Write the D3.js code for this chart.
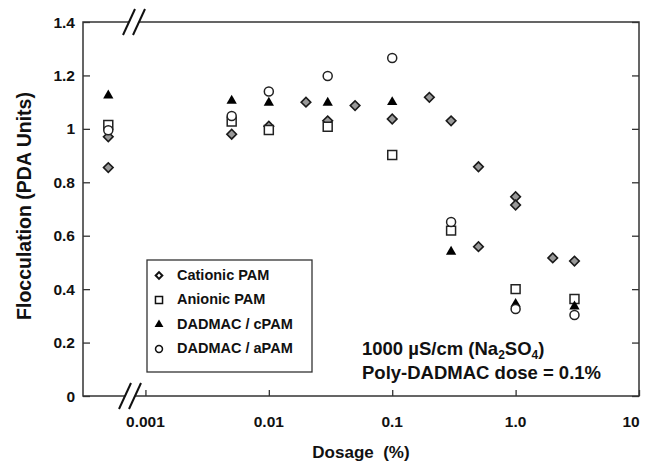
<!DOCTYPE html>
<html>
<head>
<meta charset="utf-8">
<script src="https://cdn.jsdelivr.net/npm/d3@7"></script>
<style>
body{margin:0;background:#fff;}
text{font-family:Arial,"Liberation Sans",sans-serif;font-weight:bold;fill:#111;}
</style>
</head>
<body>
<svg width="651" height="467"></svg>
<script>
// data (dose 0.0005 = no-polymer control, drawn left of the axis break)
const seriesNames = ["Cationic PAM","Anionic PAM","DADMAC / cPAM","DADMAC / aPAM"];
const cationicX = [0.0005,0.0005,0.005,0.01,0.02,0.03,0.05,0.1,0.2,0.3,0.5,0.5,1,1,2,3];
const cationicY = [0.97,0.855,0.98,1.01,1.10,1.03,1.087,1.037,1.118,1.03,0.858,0.559,0.746,0.715,0.517,0.505];
const dualX = [0.0005,0.005,0.01,0.03,0.1,0.3,1,3];
const anionicY = [1.015,1.027,0.996,1.008,0.902,0.619,0.40,0.363];
const cpamY = [1.125,1.105,1.098,1.098,1.10,0.54,0.345,0.335];
const apamY = [0.995,1.048,1.14,1.198,1.265,0.651,0.326,0.303];
const xTicks = [0.001,0.01,0.1,1,10];
const xTickLabels = ["0.001","0.01","0.1","1.0","10"];
const yTicks = [0,0.2,0.4,0.6,0.8,1,1.2,1.4];

var svg = d3.select("svg");
var pL = 83, pR = 639, pT = 22, pB = 396;

var x = d3.scaleLog().domain([Math.pow(10,-3.506),10]).range([pL,pR]);
var y = d3.scaleLinear().domain([0,1.4]).range([pB,pT]);

var axisCol = "#333";

// frame
svg.append("rect").attr("x",pL).attr("y",pT)
   .attr("width",pR-pL).attr("height",pB-pT)
   .attr("fill","none").attr("stroke",axisCol).attr("stroke-width",1.5);

// inward ticks
var gl = svg.append("g").attr("transform","translate("+pL+",0)")
   .call(d3.axisRight(y).tickValues(yTicks).tickSize(7).tickFormat(""));
var gr = svg.append("g").attr("transform","translate("+pR+",0)")
   .call(d3.axisLeft(y).tickValues(yTicks).tickSize(7).tickFormat(""));
var gb = svg.append("g").attr("transform","translate(0,"+pB+")")
   .call(d3.axisTop(x).tickValues(xTicks).tickSize(6).tickFormat(""));
[gl,gr,gb].forEach(function(g){
  g.select(".domain").remove();
  g.selectAll("line").attr("stroke",axisCol).attr("stroke-width",1.3);
});

// tick labels
svg.selectAll(".ylab").data(yTicks).enter().append("text")
   .attr("class","ylab")
   .attr("x",pL-8).attr("y",d=>y(d)).attr("dy","0.36em")
   .attr("text-anchor","end").style("font-size","15.5px")
   .text(d=>String(+d.toFixed(1)));
svg.selectAll(".xlab").data(xTicks).enter().append("text")
   .attr("class","xlab")
   .attr("x",(d,i)=> i==4 ? x(d)-8 : x(d)).attr("y",pB+31)
   .attr("text-anchor","middle").style("font-size","15.5px")
   .text((d,i)=>xTickLabels[i]);

// axis titles
svg.append("text").attr("x",(pL+pR)/2).attr("y",pB+62)
   .attr("text-anchor","middle").style("font-size","17px")
   .attr("xml:space","preserve").text("Dosage  (%)");
svg.append("text").attr("transform","translate(31,206) rotate(-90)")
   .attr("text-anchor","middle").style("font-size","19.5px")
   .text("Flocculation (PDA Units)");

// axis breaks
function brk(cx,cy){
  svg.append("rect").attr("x",cx-5).attr("y",cy-3).attr("width",10).attr("height",6).attr("fill","#fff");
  [-5,5].forEach(function(o){
    svg.append("line").attr("x1",cx+o-6).attr("y1",cy+13).attr("x2",cx+o+6).attr("y2",cy-13)
       .attr("stroke","#111").attr("stroke-width",2);
  });
}
brk(134,pT);
brk(130,pB);

// markers
var sq = d3.symbol().type(d3.symbolSquare);
function pts(xs,ys,kind){
  var data = xs.map((d,i)=>[d,ys[i]]);
  var g = svg.append("g");
  var sel = g.selectAll("path").data(data).enter().append("path");
  if(kind==0){
    sel.attr("d",sq.size(46)()).attr("fill","#999").attr("stroke","#1a1a1a").attr("stroke-width",1.6)
       .attr("transform",d=>"translate("+x(d[0])+","+y(d[1])+") rotate(45)");
  } else if(kind==1){
    sel.attr("d",sq.size(80)()).attr("fill","#fff").attr("stroke","#222").attr("stroke-width",1.5)
       .attr("transform",d=>"translate("+x(d[0])+","+y(d[1])+")");
  } else if(kind==2){
    sel.attr("d",d3.symbol().type(d3.symbolTriangle).size(46)()).attr("fill","#000")
       .attr("transform",d=>"translate("+x(d[0])+","+y(d[1])+")");
  } else {
    sel.attr("d",d3.symbol().type(d3.symbolCircle).size(64)()).attr("fill","#fff").attr("stroke","#222").attr("stroke-width",1.5)
       .attr("transform",d=>"translate("+x(d[0])+","+y(d[1])+")");
  }
}
pts(cationicX,cationicY,0);
pts(dualX,anionicY,1);
pts(dualX,cpamY,2);
pts(dualX,apamY,3);

// legend
var lg = svg.append("g");
lg.append("rect").attr("x",147).attr("y",260).attr("width",165).attr("height",112)
  .attr("fill","#fff").attr("stroke","#333").attr("stroke-width",1.3);
var rowsY = [274.5,299,323.5,348];
var symPaths = [
  sq.size(22)(), sq.size(50)(),
  d3.symbol().type(d3.symbolTriangle).size(34)(),
  d3.symbol().type(d3.symbolCircle).size(38)()
];
seriesNames.forEach(function(n,i){
  lg.append("path").attr("d",symPaths[i])
    .attr("transform","translate(159,"+(rowsY[i]+1)+")"+(i==0?" rotate(45)":""))
    .attr("fill",i==2?"#000":"#fff").attr("stroke",i==2?"none":"#111").attr("stroke-width",i==0?2:1.5);
  lg.append("text").attr("x",177).attr("y",rowsY[i]).attr("dy","0.36em")
    .style("font-size","14.5px").text(n);
});

// note
var note = svg.append("text").attr("x",362).attr("y",348).attr("dy","0.36em").style("font-size","18.5px");
note.append("tspan").text("1000 \u00b5S/cm (Na");
note.append("tspan").attr("dy","4").style("font-size","12px").text("2");
note.append("tspan").attr("dy","-4").text("SO");
note.append("tspan").attr("dy","4").style("font-size","12px").text("4");
note.append("tspan").attr("dy","-4").text(")");
svg.append("text").attr("x",362).attr("y",372).attr("dy","0.36em").style("font-size","18.5px")
   .text("Poly-DADMAC dose = 0.1%");
</script>
</body>
</html>
